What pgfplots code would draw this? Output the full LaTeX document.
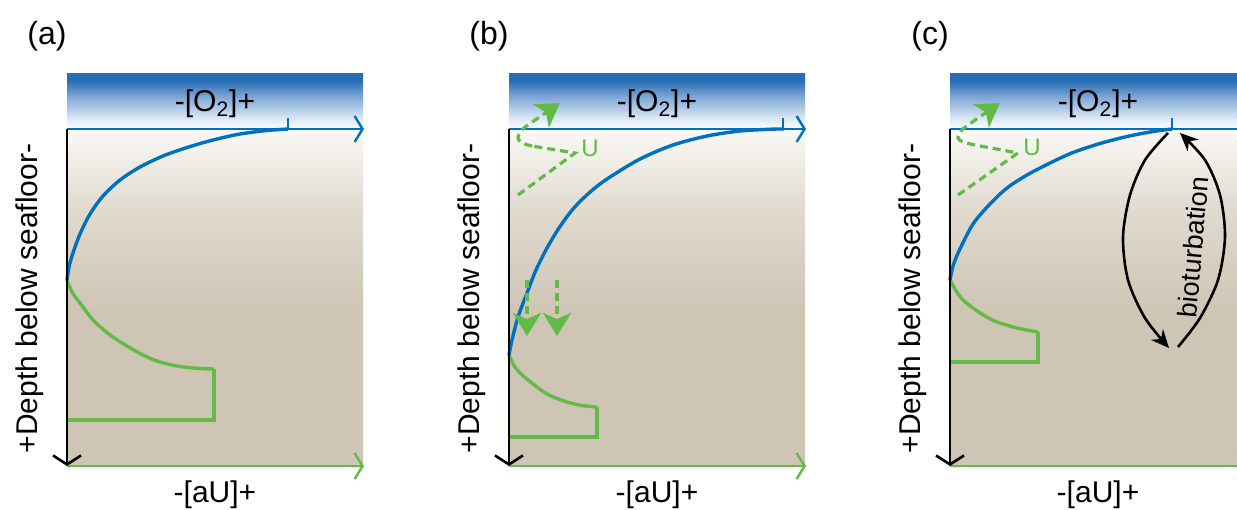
\documentclass[border=0pt]{standalone}
\usepackage{pgfplots}
\pgfplotsset{compat=1.18}
\usetikzlibrary{arrows.meta}
\usepackage{fontspec}
\setmainfont{Liberation Sans}
\definecolor{sed}{RGB}{206,197,181}
\definecolor{sedmid}{RGB}{224,218,207}
\definecolor{sedtop}{RGB}{250,249,246}
\definecolor{seablue}{RGB}{40,110,180}
\definecolor{seamid}{RGB}{130,170,215}
\definecolor{sealight}{RGB}{218,230,244}
\definecolor{o2blue}{RGB}{0,112,192}
\definecolor{ugreen}{RGB}{98,187,70}
\pgfdeclareverticalshading{sediment}{100bp}{color(0bp)=(sed); color(25bp)=(sed); color(48bp)=(sed); color(63bp)=(sedmid); color(75bp)=(sedtop); color(100bp)=(sedtop)}
\pgfdeclareverticalshading{water}{100bp}{color(0bp)=(white); color(25bp)=(white); color(35bp)=(sealight); color(53bp)=(seamid); color(68bp)=(seablue); color(100bp)=(seablue)}
\pgfplotsset{
  panel/.style={at={#1}, anchor=north west, width=148pt, height=168.5pt, scale only axis,
    xmin=0, xmax=296, ymin=0, ymax=337, y dir=reverse, clip=false, ticks=none,
    axis line style={draw=none},
    xlabel={-[aU]+}, ylabel={+Depth below seafloor-},
    xlabel style={at={(axis description cs:0.5,-0.086)}, anchor=center},
    ylabel style={at={(axis description cs:-0.125,0.497)}, anchor=center},
    label style={font=\fontsize{15}{18}\selectfont},
    font=\fontsize{15}{18}\selectfont},
}
\newcommand{\panelframe}[1]{%
  \shade[shading=sediment] (axis cs:0,0) rectangle (axis cs:296,337);
  \shade[shading=water] (axis cs:0,-56) rectangle (axis cs:296,0);
  \node at (axis cs:148,-25) {-[O\textsubscript{2}]+};
  \node[font=\fontsize{16}{19}\selectfont] at (axis cs:-20,-93) {(#1)};
}
\newcommand{\panelaxes}[1]{%
  \draw[o2blue, line width=1.2pt, -{Straight Barb[length=4pt,width=13pt]}] (axis cs:0,0) -- (axis cs:297,0);
  \draw[o2blue, line width=1.2pt] (axis cs:#1,0) -- (axis cs:#1,-11);
  \draw[ugreen, line width=1.2pt, -{Straight Barb[length=4pt,width=13pt]}] (axis cs:0,337) -- (axis cs:297,337);
  \draw[black, line width=1.3pt, -{Straight Barb[length=4.5pt,width=14pt]}] (axis cs:0,0) -- (axis cs:0,337);
}
\tikzset{
  ushape/.style={ugreen, line width=1.6pt, dash pattern=on 4pt off 2.5pt},
  bighead/.style={-{Stealth[length=11.5pt,width=14pt,inset=3pt]}},
  curve/.style={line width=1.7pt}
}
\begin{document}
\begin{tikzpicture}
\path[use as bounding box] (0,0) rectangle (618.5pt,-254.5pt);
\clip (0,0) rectangle (618.5pt,-254.5pt);
\fill[white] (0,0) rectangle (618.5pt,-254.5pt);

% ---------------- (a)
\begin{axis}[panel={(33.5pt,-64.5pt)}]
\panelframe{a}
\addplot[ugreen, curve, smooth] coordinates {(0,151)(5,163)(13,174)(26,191)(43,206)(60,217)(76,226)(93,233)(113,237.5)(133,239.5)(147,240)};
\addplot[ugreen, curve] coordinates {(147,240)(147,291)(0,291)};
\addplot[o2blue, curve, smooth] coordinates {(0,151)(2,138)(6,124)(13,105)(23,85)(36,67)(53,51)(73,38)(96,27)(120,18.5)(146,11)(173,5)(200,1.5)(221,0)};
\panelaxes{221}
\end{axis}

% ---------------- (b)
\begin{axis}[panel={(254.5pt,-64.5pt)}]
\panelframe{b}
\addplot[ugreen, curve, smooth] coordinates {(0,226)(4,235)(10,243)(18,250)(38,265)(58,273)(73,276.5)(88,278)};
\addplot[ugreen, curve] coordinates {(88,278)(88,308)(0,308)};
\addplot[o2blue, curve, smooth] coordinates {(0,226)(3,211)(9,188)(18,164)(27,141)(38,119)(50,99)(64,80)(80,64)(98,50)(131,30)(164,16)(198,7)(231,2)(262,0.2)(275,0)};
\panelaxes{274}
\addplot[ushape] coordinates {(9,66)(66,24)(23,17)};
\addplot[ushape, smooth, bighead] coordinates {(23,17)(13,14)(9,9)(12,2)(19,-4)(51,-26)};
\addplot[ushape, bighead] coordinates {(18,151)(18,207)};
\addplot[ushape, bighead] coordinates {(48,151)(48,207)};
\node[ugreen, font=\fontsize{12}{14}\selectfont] at (axis cs:81,19) {U};
\end{axis}

% ---------------- (c)
\begin{axis}[panel={(475pt,-64.5pt)}]
\panelframe{c}
\addplot[ugreen, curve, smooth] coordinates {(0,151)(5,160)(12,170)(23,179)(35,187)(47,193)(67,199)(88,203)};
\addplot[ugreen, curve] coordinates {(88,203)(88,233)(0,233)};
\addplot[o2blue, curve, smooth] coordinates {(0,151)(3,137)(9,122)(23,95)(40,75)(57,59)(77,46)(100,34)(123,23.5)(150,14.5)(177,7.5)(203,2.5)(222,0)};
\panelaxes{222}
\addplot[ushape] coordinates {(8,66)(68,24)(25,16)};
\addplot[ushape, smooth, bighead] coordinates {(25,16)(13,13)(8,9)(11,2)(18,-4)(50,-26)};
\node[ugreen, font=\fontsize{12}{14}\selectfont] at (axis cs:82,18) {U};
\addplot[black, line width=1.3pt, smooth, -{Stealth[length=9pt,width=8pt]}] coordinates {(218,4)(195,31)(180,66)(173,108)(178,151)(195,189)(219,219)};
\addplot[black, line width=1.3pt, smooth, -{Stealth[length=9pt,width=8pt]}] coordinates {(228,218)(250,189)(268,151)(275,108)(270,66)(255,31)(230,4)};
\node[rotate=85, font=\fontsize{13.5}{16}\selectfont] at (axis cs:243,118) {bioturbation};
\end{axis}
\end{tikzpicture}
\end{document}
